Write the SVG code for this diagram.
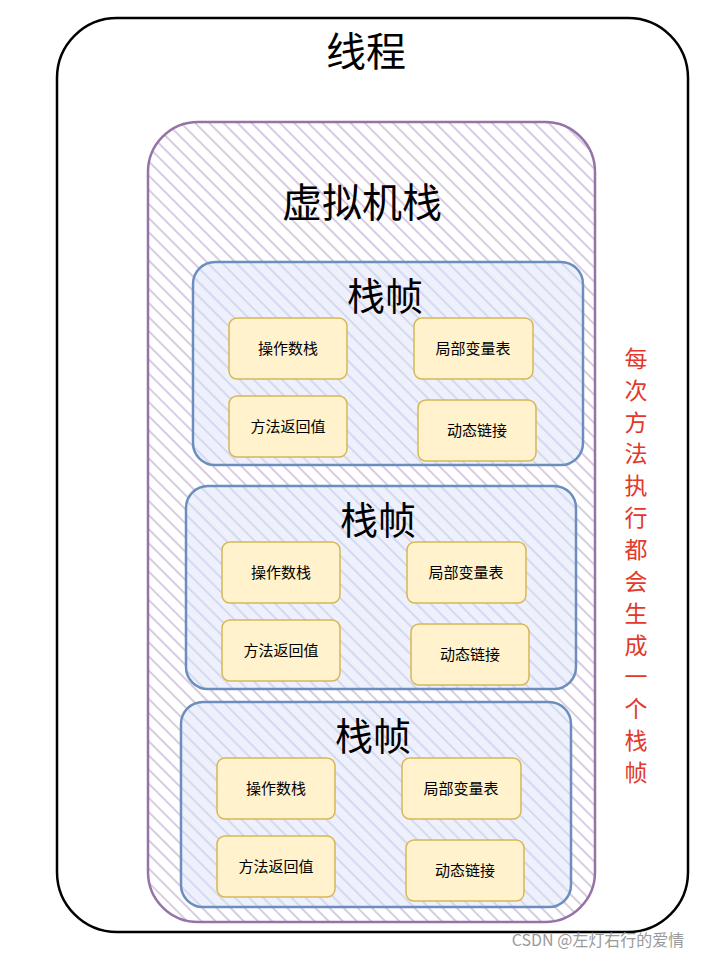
<svg xmlns="http://www.w3.org/2000/svg" width="720" height="958" viewBox="0 0 720 958">
<defs>
<pattern id="hp" patternUnits="userSpaceOnUse" width="10" height="10" patternTransform="rotate(-45)"><rect width="10" height="10" fill="#fff"/><line x1="0" y1="0" x2="0" y2="10" stroke="#d9cbe2" stroke-width="4"/></pattern>
<pattern id="hb" patternUnits="userSpaceOnUse" width="10" height="10" patternTransform="rotate(-45)"><rect width="10" height="10" fill="#eef1fb"/><line x1="0" y1="0" x2="0" y2="10" stroke="#d3d9f0" stroke-width="4"/></pattern>
</defs>
<style>
text{font-family:"Noto Sans CJK SC","Noto Sans",sans-serif;text-anchor:middle;fill:#000}
.t{font-size:40px}
.f{font-size:38px}
.b{fill:#fff2cc;stroke:#d6b656;stroke-width:1.5}
.s{font-size:15px}
.fr{fill:url(#hb);stroke:#6c8ebf;stroke-width:2.5}
.r{fill:#e3382a;font-size:23px}
</style>
<rect width="720" height="958" fill="#fff"/>
<g id="thread"><rect x="57" y="18" width="631" height="914" rx="60" fill="#fff" stroke="#000" stroke-width="2.5"/><text class="t" x="366" y="66">线程</text></g>
<g id="vmstack"><rect x="148" y="122" width="447" height="800" rx="50" fill="url(#hp)" stroke="#9673a6" stroke-width="2.5"/><text class="t" x="362" y="217">虚拟机栈</text></g>
<g id="frame1"><rect class="fr" x="193" y="262" width="390" height="203" rx="22"/><text class="f" x="385" y="310">栈帧</text>
<rect class="b" x="229" y="318" width="118" height="61" rx="8"/><text class="s" x="288" y="354">操作数栈</text>
<rect class="b" x="414" y="318" width="119" height="61" rx="8"/><text class="s" x="473" y="354">局部变量表</text>
<rect class="b" x="229" y="396" width="118" height="61" rx="8"/><text class="s" x="288" y="432">方法返回值</text>
<rect class="b" x="418" y="400" width="118" height="61" rx="8"/><text class="s" x="477" y="436">动态链接</text></g>
<g id="frame2" transform="translate(-7,224)"><rect class="fr" x="193" y="262" width="390" height="203" rx="22"/><text class="f" x="385" y="310">栈帧</text>
<rect class="b" x="229" y="318" width="118" height="61" rx="8"/><text class="s" x="288" y="354">操作数栈</text>
<rect class="b" x="414" y="318" width="119" height="61" rx="8"/><text class="s" x="473" y="354">局部变量表</text>
<rect class="b" x="229" y="396" width="118" height="61" rx="8"/><text class="s" x="288" y="432">方法返回值</text>
<rect class="b" x="418" y="400" width="118" height="61" rx="8"/><text class="s" x="477" y="436">动态链接</text></g>
<g id="frame3" transform="translate(-12,440)"><rect class="fr" x="193" y="262" width="390" height="205" rx="22"/><text class="f" x="385" y="310">栈帧</text>
<rect class="b" x="229" y="318" width="118" height="61" rx="8"/><text class="s" x="288" y="354">操作数栈</text>
<rect class="b" x="414" y="318" width="119" height="61" rx="8"/><text class="s" x="473" y="354">局部变量表</text>
<rect class="b" x="229" y="396" width="118" height="61" rx="8"/><text class="s" x="288" y="432">方法返回值</text>
<rect class="b" x="418" y="400" width="118" height="61" rx="8"/><text class="s" x="477" y="436">动态链接</text></g>
<g id="note">
<text class="r" x="636" y="367">每</text><text class="r" x="636" y="399">次</text><text class="r" x="636" y="431">方</text><text class="r" x="636" y="462">法</text><text class="r" x="636" y="494">执</text><text class="r" x="636" y="526">行</text><text class="r" x="636" y="558">都</text><text class="r" x="636" y="590">会</text><text class="r" x="636" y="622">生</text><text class="r" x="636" y="654">成</text><text class="r" x="636" y="685">一</text><text class="r" x="636" y="717">个</text><text class="r" x="636" y="749">栈</text><text class="r" x="636" y="781">帧</text>
</g>
<g id="connectors"/>
<text x="598" y="946" style="font-size:16px;fill:#9a9a9a">CSDN @左灯右行的爱情</text>
</svg>
